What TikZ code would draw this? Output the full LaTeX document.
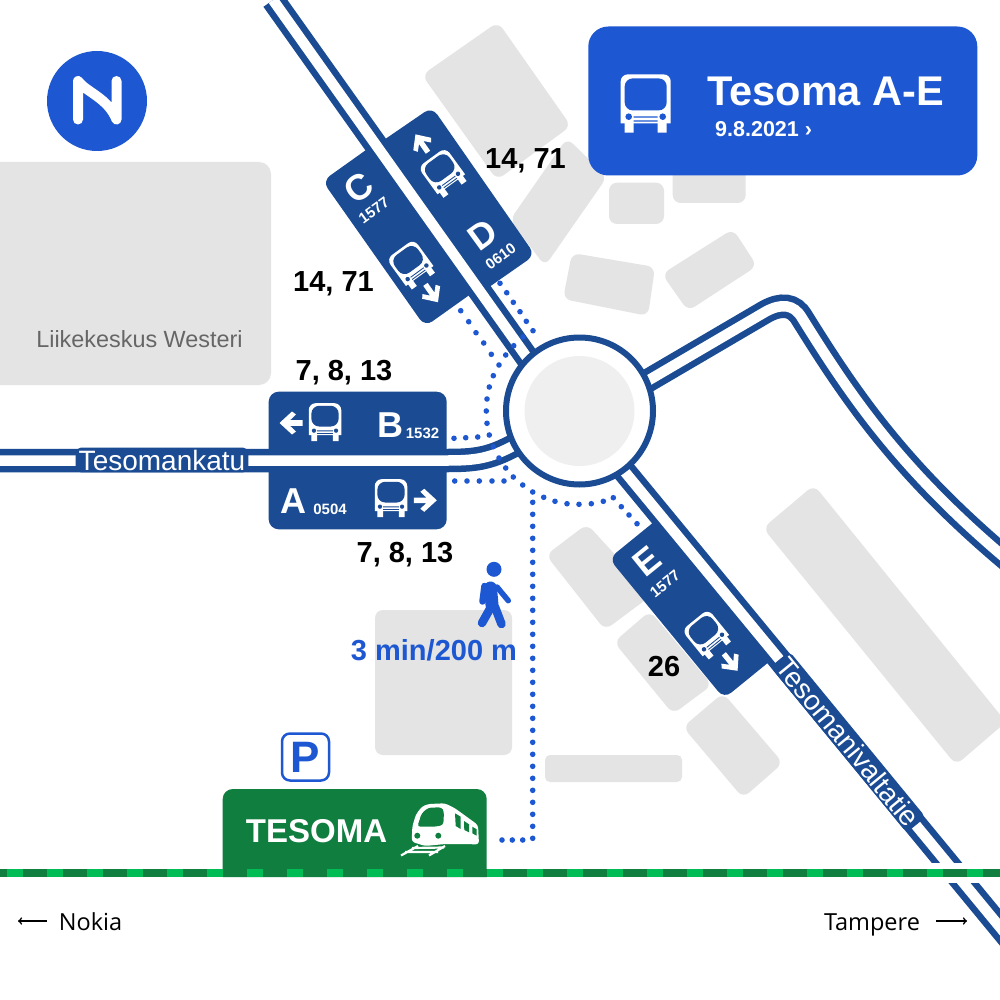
\documentclass[tikz,border=0pt]{standalone}
\usepackage{fontspec}
\setmainfont{Liberation Sans}
\newfontfamily\wayfont{Open Sans}
\newcommand{\fs}[1]{\fontsize{#1pt}{#1pt}\selectfont}
\definecolor{roadblue}{HTML}{1A4B93}
\definecolor{headblue}{HTML}{1D57D1}
\definecolor{bldgray}{HTML}{E4E4E4}
\definecolor{islandgray}{HTML}{EFEFEF}
\definecolor{stationgreen}{HTML}{0F7E3E}
\definecolor{railgreen}{HTML}{00BC55}
\tikzset{
  bld/.style={fill=bldgray,rounded corners=8},
  panel/.style={fill=roadblue},
  road/.style={draw=roadblue,line width=6.5,double=white,double distance=10.5},
  roadname/.style={fill=roadblue,text=white,font=\fs{28},rounded corners=5,inner xsep=3,inner ysep=2},
  stopletter/.style={text=white,font=\fs{36}\bfseries,inner sep=0},
  stopcode/.style={text=white,font=\fs{15}\bfseries,inner sep=0},
  lines/.style={text=black,font=\fs{29}\bfseries,inner sep=0,anchor=base},
  walkdot/.style={fill=headblue},
  way/.style={text=black,font=\fs{23.5}\wayfont,inner sep=0,anchor=base},
  wayarrow/.style={draw=black,line width=1.6,-to},
  pics/busicon/.style={code={
    \fill[white] (-25,20) [rounded corners=7] -- (-25,-29) -- (25,-29) [sharp corners] -- (25,20) -- cycle;
    \fill[white] (-21,15) rectangle (-12,29.3) (12,15) rectangle (21,29.3);
    \fill[#1,rounded corners=8] (-21,-25) rectangle (21,7);
    \fill[#1] (-17,13.3) circle (3.3pt) (17,13.3) circle (3.3pt);
    \fill[#1] (-12,13) rectangle (12,14.3) (-12,17) rectangle (12,18.3);
  }},
  pics/stoparrow/.style={code={
    \fill[white] (-11.5,-2.8) -- (1,-2.8) -- (-5,-8.5) -- (-1,-11.5) -- (11.5,0) -- (-1,11.5) -- (-5,8.5) -- (1,2.8) -- (-11.5,2.8) -- cycle;
  }}
}
\begin{document}
\begin{tikzpicture}[x=1pt,y=-1pt]
\clip (0,0) rectangle (1000,1000);
\fill[white] (0,0) rectangle (1000,1000);
\fill[bld,rounded corners=12] (-20,162) rectangle (271,385);
\fill[bld] (498,22) -- (422,75) -- (497,180) -- (571,126) -- cycle;
\fill[bld] (567,138) -- (510,220) -- (545,266) -- (607,177) -- cycle;
\fill[bld] (609,182.7) rectangle (664,224);
\fill[bld] (672.7,150) rectangle (745.7,203);
\fill[bld] (572,253) -- (655,267) -- (648,316) -- (563,299) -- cycle;
\fill[bld] (733,229) -- (757,266) -- (688,311) -- (662,274) -- cycle;
\fill[bld] (814,485) -- (763,528) -- (956,765) -- (1006,722) -- cycle;
\fill[bld] (587,524) -- (546,555) -- (605,630) -- (652,595) -- cycle;
\fill[bld] (650,611) -- (614,642) -- (673,714) -- (712,685) -- cycle;
\fill[bld] (723,693) -- (683,727) -- (743,798) -- (783,763) -- cycle;
\fill[bld,rounded corners=5] (545,755) rectangle (682,782);
\fill[bld] (375,610) rectangle (512,755);

\node[fill=headblue,minimum width=389,minimum height=149,rounded corners=20,inner sep=0] (head) at (782.8,101) {};
\pic at (645.7,103.4) {busicon=headblue};
\node[text=white,font=\fs{41.5}\bfseries,anchor=base west,inner sep=0] (title) at (707,106) {Tesoma A-E};
\node[text=white,font=\fs{21.5}\bfseries,anchor=base west,inner sep=0] (date) at (715,136.5) {9.8.2021 ›};

\node[circle,fill=headblue,minimum size=100,inner sep=0] (north) at (97,101) {};
\draw[white,line width=10,line cap=round,line join=round] (78,119.5) -- (78,81) .. controls (86,92) and (108,98) .. (116.5,119.5) -- (116.5,81);

\node[text=black!60,font=\fs{23.4},inner sep=0] (westeri) at (139.5,339) {Liikekeskus Westeri};

\fill[panel,rounded corners=10] (268.7,391.7) rectangle (446.7,529.3);
\fill[panel] (373,145) [rounded corners=9] -- (322.5,181) -- (425,326.6) [sharp corners] -- (475,291) -- cycle;
\fill[panel] (378,144) [rounded corners=9] -- (432,107) -- (535,255) [sharp corners] -- (482,292) -- cycle;
\fill[panel] (660,517) [rounded corners=9] -- (609,558.5) -- (724,698.5) [sharp corners] -- (775,657) -- cycle;

\draw[road] (273,0) -- (565,411);
\draw[road] (-10,460.5) -- (447,460.5) .. controls (480,460.5) and (495,458) .. (530,436);
\draw[road] (620,466) -- (1060,1000);
\draw[road] (620,397) -- (765,312) .. controls (781,303) and (794,304) .. (802,318) .. controls (850,395) and (900,470) .. (1010,562);

\node[circle,draw=roadblue,line width=6,fill=white,minimum size=147,inner sep=0] (ring) at (579.5,411) {};
\node[circle,fill=islandgray,minimum size=110,inner sep=0] (island) at (ring) {};

\fill[white] (0,862.7) rectangle (1000,882.7);

\node[roadname] (katu) at (162,460) {Tesomankatu};
\node[roadname,rotate=-50.6] (tie) at (848,742) {Tesomanivaltatie};

\pic[scale=.65] at (325,422) {busicon=roadblue};
\pic[scale=.65] at (391,498) {busicon=roadblue};
\pic[rotate=180] at (291,423) {stoparrow};
\pic at (425.3,500.3) {stoparrow};
\pic[scale=.68,rotate=36] at (411.7,265) {busicon=roadblue};
\pic[scale=.95,rotate=-55] at (431.7,293.3) {stoparrow};
\pic[scale=.68,rotate=36] at (443.3,173.3) {busicon=roadblue};
\pic[scale=.95,rotate=125] at (421.7,143.3) {stoparrow};
\pic[scale=.68,rotate=39] at (707.3,635) {busicon=roadblue};
\pic[scale=.95,rotate=-51] at (730.7,662.3) {stoparrow};

\node[stopletter] (B) at (390,425.5) {B};
\node[stopcode] (Bcode) at (422.5,433) {1532};
\node[stopletter] (A) at (293,501.5) {A};
\node[stopcode] (Acode) at (330,509.5) {0504};
\node[stopletter,rotate=36] (C) at (359,187.7) {C};
\node[stopcode,rotate=36] (Ccode) at (374,210.7) {1577};
\node[stopletter,rotate=36] (D) at (483,235) {D};
\node[stopcode,rotate=36] (Dcode) at (500.7,256.7) {0610};
\node[stopletter,rotate=39] (E) at (646.7,561.7) {E};
\node[stopcode,rotate=39] (Ecode) at (665,584) {1577};

\node[lines] (lineC) at (333.5,291.7) {14, 71};
\node[lines] (lineD) at (525.5,168.3) {14, 71};
\node[lines] (lineB) at (344,380.5) {7, 8, 13};
\node[lines] (lineA) at (405,562.5) {7, 8, 13};
\node[lines] (lineE) at (664,676) {26};

\foreach \px/\py in {460.7/310.7,468.7/321.7,476/332.7,483.7/343,491.3/354.3,499/365,493.3/375.7,489.3/387,487/399,486.3/411,487/423.3,489.3/435,493.3/446.7,499/458,505.7/468,513.3/477,522.7/485,532.7/492,543.7/497.3,555/501.3,567/503.7,579/504.3,591.3/503.7,603.3/501.3,613.3/497.7,621.3/506.7,629/515,637/523.7,500/283.3,506.7/292.7,513.3/302.3,520/311.7,526.3/321.3,533/330.7,523/337,513.7/345.7,505.7/355,454/438.3,465.7/437.7,477.7/437,454.7/481,467/481,479.3/481,492/481,504/481,522.7/840,512.3/840,502/840}
  \fill[walkdot] (\px,\py) circle (2.8pt);
\foreach \py in {502.3,514.3,...,841}
  \fill[walkdot] (532.7,\py) circle (2.8pt);

\fill[headblue] (494,569.3) circle (7.5pt);
\draw[headblue,line width=13,line cap=round] (490.5,588) -- (492,605);
\draw[headblue,line width=5.5,line cap=round] (497,587) -- (508.3,600.7);
\draw[headblue,line width=6.5,line cap=round] (484.5,586) -- (482.5,601.5);
\draw[headblue,line width=8.5,line cap=round] (491,607) -- (482,623);
\draw[headblue,line width=8.5,line cap=round] (495,607) -- (501.5,624);
\node[text=headblue,font=\fs{29}\bfseries,inner sep=0,anchor=base] (walk) at (434,660) {3 min/200 m};

\node[draw=headblue,line width=2.5,rounded corners=8,minimum size=47,inner sep=0,text=headblue,font=\fs{44}\bfseries] (park) at (305.5,757) {P};

\fill[stationgreen] (222.7,877) [rounded corners=10] -- (222.7,789) -- (486.7,789) [sharp corners] -- (486.7,877) -- cycle;
\node[text=white,font=\fs{33}\bfseries,inner sep=0] (station) at (316.5,831) {TESOMA};
\fill[white,rounded corners=3] (411.7,841.7) -- (412.3,826.7) -- (415.7,815) -- (421.7,806.7) -- (428.3,804) -- (445,803.3) -- (455,808.3) -- (478,825) -- (479,844.3) -- (445,844) -- (425,846) -- cycle;
\fill[stationgreen,rounded corners=3] (417.3,826.7) -- (421.7,813.3) -- (428.3,807.7) -- (441.7,807.3) -- (444,811.7) -- (443.3,825) -- (435,826.7) -- cycle;
\fill[stationgreen] (455,813.3) -- (460.7,816.7) -- (460.7,829) -- (455.7,826) -- cycle (464,821) -- (469,824.3) -- (469,832.3) -- (464.3,830) -- cycle (472.3,826.7) -- (476.7,829.3) -- (476.7,835.7) -- (472.3,833.3) -- cycle;
\fill[stationgreen] (417.3,835.7) circle (3pt) (438.3,835.7) circle (3pt);
\draw[white,line width=2.2] (401,855.5) -- (418,846) (429,855.5) -- (445,846) (405,852) -- (438,852) (412,848) -- (444,847.5);

\draw[stationgreen,line width=8] (0,873) -- (1000,873);
\draw[railgreen,line width=8,dash pattern=on 16pt off 24pt] (-33.3,873) -- (1000,873);

\node[way] (nokia) at (90.5,930) {Nokia};
\coordinate (nokiaend) at (18,921);
\draw[wayarrow] (47,921) -- (nokiaend);
\node[way] (tampere) at (872,930) {Tampere};
\coordinate (tampereend) at (967,921);
\draw[wayarrow] (936,921) -- (tampereend);
\end{tikzpicture}
\end{document}
